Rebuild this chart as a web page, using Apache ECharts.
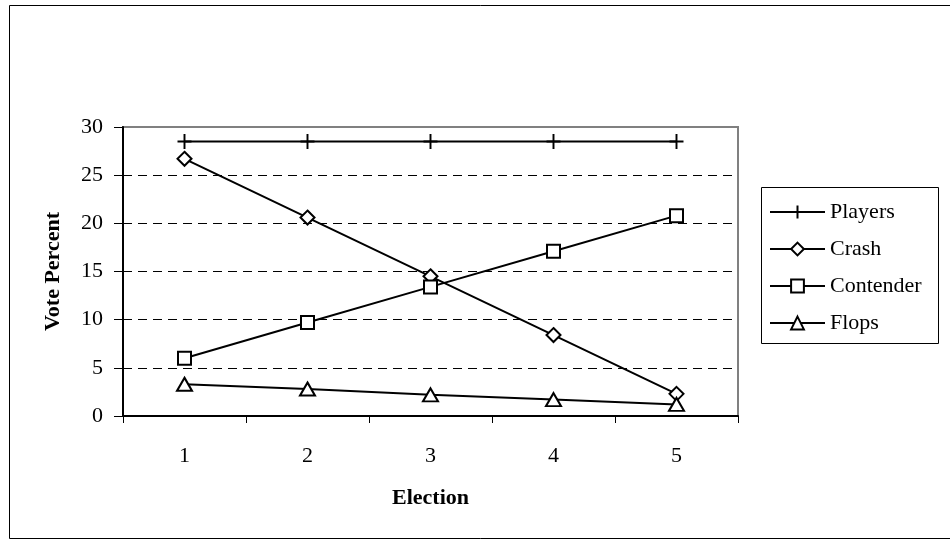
<!DOCTYPE html>
<html>
<head>
<meta charset="utf-8">
<script src="https://cdn.jsdelivr.net/npm/echarts@6/dist/echarts.min.js"></script>
<style>html,body{margin:0;padding:0;background:#fff;}#c{width:950px;height:542px;}</style>
</head>
<body>
<div id="c"></div>
<script>
var categories = ['1', '2', '3', '4', '5'];
var players = [28.5, 28.5, 28.5, 28.5, 28.5];
var crash = [26.7, 20.6, 14.5, 8.4, 2.3];
var contender = [6.0, 9.7, 13.4, 17.1, 20.8];
var flops = [3.3, 2.8, 2.2, 1.7, 1.2];
var yTicks = [0, 5, 10, 15, 20, 25, 30];

var FONT = '"Liberation Serif", "Times New Roman", serif';
var FS = 22;
var plusPath = 'path://M5,0 L5,12 M0,6 L10,6';

function mk(name, data, symbol, size) {
  return {
    name: name, type: 'line', data: data,
    symbol: symbol, symbolSize: size,
    showAllSymbol: true,
    lineStyle: {color: '#000', width: 2},
    itemStyle: {color: '#fff', borderColor: '#000', borderWidth: 2},
    emphasis: {disabled: true},
    animation: false
  };
}

var chart = echarts.init(document.getElementById('c'), null, {renderer: 'canvas'});
chart.setOption({
  backgroundColor: '#fff',
  animation: false,
  textStyle: {fontFamily: FONT},
  graphic: [
    {type: 'rect', shape: {x: 9.5, y: 5.5, width: 960, height: 533}, style: {fill: 'none', stroke: '#000', lineWidth: 1}, z: -10},
    {type: 'rect', shape: {x: 761.5, y: 187.5, width: 177, height: 156}, style: {fill: '#fff', stroke: '#000', lineWidth: 1}, z: -5}
  ],
  grid: {left: 123, top: 127, right: 212, bottom: 126, show: true, borderColor: '#808080', borderWidth: 2, backgroundColor: '#fff'},
  legend: {
    orient: 'vertical', left: 764, top: 196, padding: 5,
    itemWidth: 55, itemHeight: 16, itemGap: 15,
    textStyle: {fontFamily: FONT, fontSize: FS, lineHeight: 22, color: '#000'},
    data: ['Players', 'Crash', 'Contender', 'Flops']
  },
  xAxis: {
    type: 'category', data: categories, boundaryGap: true,
    name: 'Election', nameLocation: 'middle', nameGap: 71,
    nameTextStyle: {fontFamily: FONT, fontSize: FS, fontWeight: 'bold', color: '#000'},
    axisLine: {lineStyle: {color: '#000', width: 2}},
    axisTick: {show: true, inside: false, length: 7, alignWithLabel: false, lineStyle: {color: '#000', width: 1}},
    axisLabel: {fontFamily: FONT, fontSize: FS, color: '#000', margin: 29},
    splitLine: {show: false}
  },
  yAxis: {
    type: 'value', min: 0, max: 30, interval: 5,
    name: 'Vote Percent', nameLocation: 'middle', nameGap: 59,
    nameTextStyle: {fontFamily: FONT, fontSize: FS, fontWeight: 'bold', color: '#000'},
    axisLine: {show: true, lineStyle: {color: '#000', width: 2}},
    axisTick: {show: true, inside: false, length: 9, lineStyle: {color: '#000', width: 1}},
    axisLabel: {fontFamily: FONT, fontSize: FS, color: '#000', margin: 20,
      formatter: function (v) { return yTicks.indexOf(v) >= 0 ? String(v) : ''; }},
    splitLine: {show: true, showMaxLine: false, showMinLine: false, lineStyle: {color: '#000', width: 1, type: [9, 6]}}
  },
  series: [
    mk('Players', players, plusPath, [14, 15]),
    mk('Crash', crash, 'diamond', [14, 14]),
    mk('Contender', contender, 'rect', [13, 13]),
    mk('Flops', flops, 'triangle', [15, 13])
  ]
});
</script>
</body>
</html>
